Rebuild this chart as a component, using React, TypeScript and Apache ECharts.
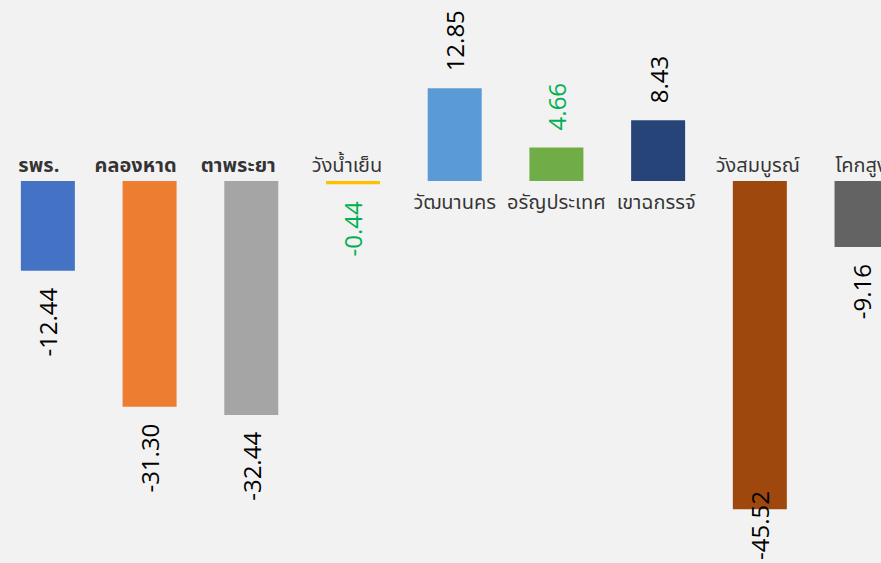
import React, { useEffect, useRef } from "react";
import * as echarts from "echarts";

const categories = [
  "รพร.",
  "คลองหาด",
  "ตาพระยา",
  "วังน้ำเย็น",
  "วัฒนานคร",
  "อรัญประเทศ",
  "เขาฉกรรจ์",
  "วังสมบูรณ์",
  "โคกสูง",
];
const values = [-12.44, -31.3, -32.44, -0.44, 12.85, 4.66, 8.43, -45.52, -9.16];

const barColors = [
  "#4472c4",
  "#ed7d31",
  "#a5a5a5",
  "#ffc000",
  "#5b9bd5",
  "#70ad47",
  "#264478",
  "#9e480e",
  "#636363",
];
const valueLabelColors = [
  "#000000",
  "#000000",
  "#000000",
  "#00b050",
  "#000000",
  "#00b050",
  "#000000",
  "#000000",
  "#000000",
];
const catLabelBold = [true, true, true, false, false, false, false, false, false];
const catLabelDx = [-9, -14, -13, -6, 0, 0, -2, -2, 0];

const H = 563;
const THAI_FONT = '"Leelawadee UI", "Noto Sans Thai", "Noto Sans Thai UI", Tahoma, "Noto Sans", sans-serif';
const NUM_FONT = '"Open Sans", "Segoe UI", sans-serif';
const VAL_FONT_SIZE = 24;
const VAL_DIST = 17;

function measure(text: string, font: string): number {
  const c = document.createElement("canvas").getContext("2d");
  if (!c) return text.length * 12;
  c.font = font;
  return c.measureText(text).width;
}

export default function App() {
  const ref = useRef<HTMLDivElement>(null);
  useEffect(() => {
    if (!ref.current) return;
    const chart = echarts.init(ref.current, undefined, { renderer: "svg" });
    const fmt = (v: number) => v.toFixed(2);
    // shifts: how far (screen px) each value label must move up to stay inside the chart
    const buildSeries = (shiftUp: number[]) => [
      {
        type: "bar",
        barWidth: 54,
        data: values.map((v, i) => ({
          value: v,
          itemStyle: { color: barColors[i] },
          label: {
            show: true,
            position: v < 0 ? "bottom" : "top",
            distance: VAL_DIST,
            rotate: 90,
            align: v < 0 ? "right" : "left",
            verticalAlign: "middle",
            color: valueLabelColors[i],
            fontFamily: NUM_FONT,
            fontSize: VAL_FONT_SIZE,
            // label is rotated 90deg: its local +x points up on screen
            offset: [shiftUp[i], 0],
            formatter: (p: any) => fmt(Number(p.value)),
          },
        })),
      },
      {
        type: "scatter",
        silent: true,
        symbolSize: 0,
        data: values.map((v, i) => ({
          value: 0,
          label: {
            show: true,
            position: v < 0 ? "top" : "bottom",
            distance: v < 0 ? 5 : 12,
            offset: [catLabelDx[i], 0],
            formatter: categories[i],
            color: "#000000",
            fontFamily: THAI_FONT,
            fontSize: 20,
            fontWeight: catLabelBold[i] ? 700 : 400,
          },
        })),
      },
    ];
    chart.setOption({
      animation: false,
      backgroundColor: "#f2f2f2",
      grid: {
        left: 0,
        top: 0.75,
        width: 915.4,
        height: 540.75,
        containLabel: false,
        outerBoundsMode: "none",
      },
      xAxis: { type: "category", data: categories, show: false },
      yAxis: { type: "value", min: -50, max: 25, show: false, splitLine: { show: false } },
      series: buildSeries(values.map(() => 0)),
    });
    const shifts = values.map((v, i) => {
      if (v >= 0) return 0;
      const p = chart.convertToPixel({ seriesIndex: 0 }, [i, v]) as number[];
      if (!p) return 0;
      const len = measure(fmt(v), `${VAL_FONT_SIZE}px ${NUM_FONT}`);
      const end = p[1] + VAL_DIST + len;
      const limit = H - 3;
      return end > limit ? end - limit : 0;
    });
    chart.setOption({ series: buildSeries(shifts) });
    return () => chart.dispose();
  }, []);
  return (
    <div
      ref={ref}
      style={{ position: "fixed", left: -3, top: 0, width: 918, height: H, background: "#f2f2f2" }}
    />
  );
}
